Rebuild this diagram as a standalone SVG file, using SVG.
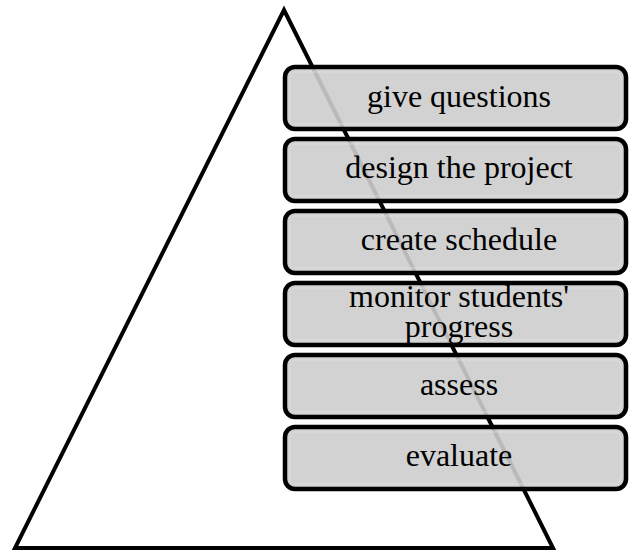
<svg xmlns="http://www.w3.org/2000/svg" width="629" height="552" viewBox="0 0 629 552">
  <style>
    .tri { fill: none; stroke: #000; stroke-width: 4; stroke-linejoin: miter; }
    .box { fill: #cdcdcd; fill-opacity: 0.9; stroke: #000; stroke-width: 4.5; }
    .bevel { fill: none; stroke: #e6e6e6; stroke-opacity: 0.6; stroke-width: 1; }
    .lbl { font-family: "Liberation Serif", "Times New Roman", serif; font-size: 32px; fill: #000; text-anchor: middle; }
  </style>
  <rect width="629" height="552" fill="#fff"/>

  <!-- pyramid outline -->
  <g id="pyramid">
    <polygon class="tri" points="284,10 553,548 15,548"/>
  </g>

  <!-- step boxes, stacked top to bottom -->
  <g id="step-1">
    <rect class="box" x="285" y="67" width="341" height="62" rx="10"/>
    <rect class="bevel" x="290" y="72" width="331" height="52" rx="6"/>
    <text class="lbl" x="459" y="107">give questions</text>
  </g>
  <g id="step-2">
    <rect class="box" x="285" y="139" width="341" height="62" rx="10"/>
    <rect class="bevel" x="290" y="144" width="331" height="52" rx="6"/>
    <text class="lbl" x="459" y="178">design the project</text>
  </g>
  <g id="step-3">
    <rect class="box" x="285" y="211" width="341" height="62" rx="10"/>
    <rect class="bevel" x="290" y="216" width="331" height="52" rx="6"/>
    <text class="lbl" x="459" y="250">create schedule</text>
  </g>
  <g id="step-4">
    <rect class="box" x="285" y="283" width="341" height="62" rx="10"/>
    <rect class="bevel" x="290" y="288" width="331" height="52" rx="6"/>
    <text class="lbl" x="459" y="307">monitor students'</text>
    <text class="lbl" x="459" y="337">progress</text>
  </g>
  <g id="step-5">
    <rect class="box" x="285" y="355" width="341" height="62" rx="10"/>
    <rect class="bevel" x="290" y="360" width="331" height="52" rx="6"/>
    <text class="lbl" x="459" y="395">assess</text>
  </g>
  <g id="step-6">
    <rect class="box" x="285" y="427" width="341" height="62" rx="10"/>
    <rect class="bevel" x="290" y="432" width="331" height="52" rx="6"/>
    <text class="lbl" x="459" y="466">evaluate</text>
  </g>
</svg>
